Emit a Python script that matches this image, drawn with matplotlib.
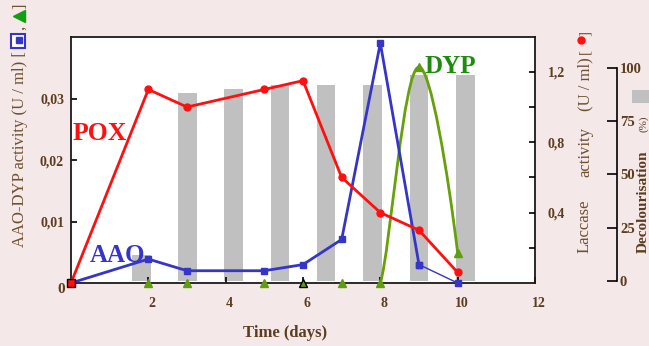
import matplotlib
matplotlib.use('Agg')
import matplotlib.pyplot as plt
import matplotlib.transforms as mtransforms
from matplotlib.path import Path
from matplotlib.patches import PathPatch, Rectangle
from matplotlib.lines import Line2D

# data
days = [0, 2, 3, 5, 6, 7, 8, 9, 10]
pox = [0, 1.10, 1.00, 1.10, 1.15, 0.60, 0.40, 0.30, 0.06]          # laccase, U/ml
aao = [0, 0.0039, 0.0020, 0.0020, 0.0030, 0.0071, 0.0391, 0.0030, 0.0]
dyp_days = [2, 3, 5, 6, 7, 8, 9, 10]
dyp = [0, 0, 0, 0, 0, 0, 0.0352, 0.0049]
bar_days = [1.83, 3.02, 4.2, 5.4, 6.6, 7.8, 9.0, 10.2]
decol = [12.4, 88.0, 89.9, 91.8, 91.8, 91.7, 96.5, 96.5]

left_ticks = [0.01, 0.02, 0.03]
left_labels = ['0,01', '0,02', '0,03']
lac_ticks = [0.2, 0.4, 0.6, 0.8, 1.0, 1.2]
lac_labels = ['', '0,4', '', '0,8', '', '1,2']
dec_ticks = [0, 25, 50, 75, 100]
x_ticks = [2, 4, 6, 8, 10, 12]

W, H = 649, 346
BROWN = '#5c3d1e'
SERIF = 'Liberation Serif'
plt.rcParams['font.family'] = [SERIF, 'DejaVu Sans']

def fx(px):
    return px / W

def fy(py):
    return 1 - py / H

fig = plt.figure(figsize=(W / 100, H / 100), dpi=100, facecolor='#f4e8e8')
pos = [fx(71), fy(283), (535 - 71) / W, (283 - 37) / H]

# bars + decolourisation axis (bottom layer)
axb = fig.add_axes(pos, zorder=1)
axb.set_facecolor('white')
axb.bar(bar_days, decol, width=0.48, color='#c0c0c0', zorder=1)
axb.set_xlim(0, 12)
axb.set_ylim(-0.9, 114.3)
axb.set_xticks([])
for s in ['left', 'top', 'bottom']:
    axb.spines[s].set_visible(False)
axb.spines['right'].set_position(('axes', 1.177))
axb.spines['right'].set_bounds(0, 100)
axb.spines['right'].set_linewidth(1.2)
axb.yaxis.tick_right()
axb.set_yticks(dec_ticks)
axb.set_yticklabels([str(t) for t in dec_ticks])
axb.tick_params(axis='y', direction='in', length=7, width=1.2, pad=2,
                labelsize=10.5, labelcolor=BROWN)
for lab in axb.get_yticklabels():
    lab.set_fontweight('bold')

# AAO / DYP axis
ax = fig.add_axes(pos, zorder=2)
ax.set_facecolor('none')
ax.set_xlim(0, 12)
ax.set_ylim(0, 0.0401)
for s in ax.spines.values():
    s.set_linewidth(1.3)
    s.set_color('#1a1a1a')

ax.plot(days[:-1], aao[:-1], color='#3535c8', lw=2, marker='s', ms=5,
        zorder=3, clip_on=False)
ax.plot(days[-2:], aao[-2:], color='#3535c8', lw=1, marker='s', ms=5,
        zorder=3, clip_on=False)

# DYP smooth curve from day 8 to 10
d8, d9, d10 = dyp_days[-3], dyp_days[-2], dyp_days[-1]
v8, v9, v10 = dyp[-3], dyp[-2], dyp[-1]
verts = [(d8, v8), (d8 + 0.25, v8 + 0.005), (d9 - 0.4, v9), (d9, v9),
         (d9 + 0.3, v9), (d10 - 0.25, v10 + 0.013), (d10, v10)]
codes = [Path.MOVETO] + [Path.CURVE4] * 6
ax.add_patch(PathPatch(Path(verts, codes), fill=False, edgecolor='#66a00a',
                       lw=2, zorder=2))
edges = ['black' if d == 6 else '#5f9e0f' for d in dyp_days]
for d, v, e in zip(dyp_days, dyp, edges):
    ax.plot([d], [v], marker='^', ms=6, color='#5f9e0f', mec=e, ls='none',
            zorder=4, clip_on=False)

ax.set_xticks(x_ticks)
ax.set_xticklabels([str(t) for t in x_ticks])
ax.set_yticks(left_ticks)
ax.set_yticklabels(left_labels)
ax.tick_params(direction='in', length=4, width=1.2, labelsize=10,
               labelcolor=BROWN)
ax.tick_params(axis='x', pad=10)
ax.tick_params(axis='y', pad=5)
off = mtransforms.ScaledTranslation(0.04, 0, fig.dpi_scale_trans)
for lab in ax.get_xticklabels():
    lab.set_transform(lab.get_transform() + off)
for lab in ax.get_xticklabels() + ax.get_yticklabels():
    lab.set_fontweight('bold')
ax.annotate('0', xy=(0, 0), xytext=(-7, -5), textcoords='offset points',
            ha='center', va='center', fontsize=11, fontweight='bold',
            color=BROWN, annotation_clip=False)

# laccase axis (top layer)
axr = fig.add_axes(pos, zorder=3)
axr.set_facecolor('none')
axr.set_xlim(0, 12)
axr.set_ylim(0, 1.398)
for s in axr.spines.values():
    s.set_visible(False)
axr.set_xticks([])
axr.yaxis.tick_right()
axr.set_yticks(lac_ticks)
axr.set_yticklabels(lac_labels)
axr.tick_params(axis='y', direction='in', length=4, width=1.2, pad=9,
                labelsize=10, labelcolor=BROWN)
for lab in axr.get_yticklabels():
    lab.set_fontweight('bold')
axr.plot(days, pox, color='#ff1010', lw=2, marker='o', ms=5, zorder=3,
         clip_on=False)
axr.plot(days[:1], pox[:1], color='#ff1010', marker='s', ms=6, mec='black',
         ls='none', zorder=4, clip_on=False)

# series names
fig.text(fx(100), fy(140), 'POX', color='#ff1010', fontsize=18.5,
         fontweight='bold', ha='center', va='baseline', zorder=5)
fig.text(fx(117), fy(262), 'AAO', color='#3535c8', fontsize=18,
         fontweight='bold', ha='center', va='baseline', zorder=5)
fig.text(fx(450), fy(73), 'DYP', color='#1f8c10', fontsize=18,
         fontweight='bold', ha='center', va='baseline', zorder=5)

fig.text(fx(285), fy(333), 'Time (days)', color=BROWN, fontsize=12,
         fontweight='bold', ha='center', va='center')

# left axis title with symbols
LAB = '#6e5030'
fig.text(fx(20), fy(247), 'AAO-DYP activity (U / ml) [', rotation=90,
         color=LAB, fontsize=12, ha='center', va='bottom')
fig.add_artist(Line2D([fx(18)], [fy(41)], marker='s', ms=10, mfc='white',
                      mec='#3535c8', mew=1.5, transform=fig.transFigure))
fig.add_artist(Line2D([fx(19)], [fy(40)], marker='s', ms=4, color='#3535c8',
                      transform=fig.transFigure))
fig.text(fx(20), fy(28), ',', rotation=90, color=LAB, fontsize=12,
         ha='center', va='center')
fig.add_artist(Line2D([fx(19)], [fy(16)], marker='<', ms=9, color='#10a010',
                      transform=fig.transFigure))
fig.text(fx(20), fy(6), ']', rotation=90, color=LAB, fontsize=12,
         ha='center', va='center')

# laccase axis title
fig.text(fx(585), fy(253), 'Laccase', rotation=90, color=LAB, fontsize=12,
         ha='center', va='bottom')
fig.text(fx(585), fy(152), 'activity', rotation=90, color=LAB, fontsize=12,
         ha='center', va='center')
fig.text(fx(585), fy(84), '(U / ml)', rotation=90, color=LAB, fontsize=12,
         ha='center', va='center')
fig.text(fx(585), fy(52), '[', rotation=90, color=LAB, fontsize=11,
         ha='center', va='center')
fig.add_artist(Line2D([fx(581)], [fy(40)], marker='o', ms=5, color='#ff1010',
                      transform=fig.transFigure))
fig.text(fx(585), fy(33), ']', rotation=90, color=LAB, fontsize=11,
         ha='center', va='center')

# decolourisation title
fig.text(fx(643), fy(253), 'Decolourisation', rotation=90, color=BROWN,
         fontsize=11, fontweight='bold', ha='center', va='bottom')
fig.text(fx(644), fy(124), '(%)', rotation=90, color=BROWN, fontsize=8,
         ha='center', va='center')
fig.add_artist(Rectangle((fx(632), fy(103)), fx(17), 13 / H,
                         facecolor='#c0c0c0', edgecolor='none',
                         transform=fig.transFigure))

fig.savefig('out.png', dpi=100, facecolor=fig.get_facecolor())
